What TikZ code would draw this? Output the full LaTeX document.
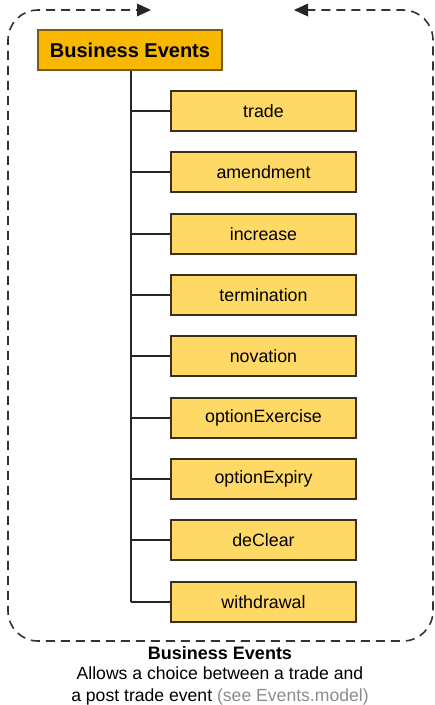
\documentclass[tikz,border=0pt]{standalone}
\usepackage{fontspec}
\setmainfont{Liberation Sans}
\usetikzlibrary{arrows.meta}
\definecolor{hdrfill}{HTML}{F8B800}
\definecolor{hdrdraw}{HTML}{7A5A10}
\definecolor{kidfill}{HTML}{FFD966}
\definecolor{kiddraw}{HTML}{3A3022}
\definecolor{seegrey}{HTML}{8C8C8C}
\tikzset{
  hdrbox/.style={draw=hdrdraw, fill=hdrfill, line width=1.5pt, minimum width=184pt, minimum height=40pt, inner sep=0pt, font=\fontsize{20}{22}\selectfont\bfseries},
  kidbox/.style={draw=kiddraw, fill=kidfill, line width=1.5pt, minimum width=185pt, minimum height=40pt, inner sep=0pt, font=\fontsize{17.8}{20}\selectfont},
  tree/.style={draw=black!85, line width=1.5pt},
  frame/.style={draw=black!80, line width=1.6pt, dash pattern=on 9pt off 6pt},
  tipfill/.style={fill=black!85},
}
\begin{document}
\begin{tikzpicture}[x=1pt,y=1pt]
\useasboundingbox (0,0) rectangle (435,-705);
\node[hdrbox] (hdr) at (130,-50) {Business Events};
\coordinate (trunk) at (131,-70);
\foreach \name/\txt/\yy in {k1/trade/111, k2/amendment/172, k3/increase/234, k4/termination/295, k5/novation/356, k6/optionExercise/418, k7/optionExpiry/479, k8/deClear/540, k9/withdrawal/602}{
  \node[kidbox] (\name) at (263.5,-\yy) {\txt};
  \coordinate (j\name) at (131,-\yy);
  \draw[tree] (j\name) -- (\name.west);
}
\draw[tree] (hdr.south -| trunk) -- (jk9);
% dashed frame
\coordinate (la) at (151,-10);
\coordinate (ra) at (294,-10);
\draw[frame] ([xshift=-6pt]la) -- (38,-10) arc[start angle=90,end angle=180,radius=30] -- (8,-611) arc[start angle=180,end angle=270,radius=30] -- (403,-641) arc[start angle=270,end angle=360,radius=30] -- (433,-40) arc[start angle=0,end angle=90,radius=30] -- ([xshift=6pt]ra);
\fill[tipfill] (la) -- ++(-14,6.5) -- ++(0,-13) -- cycle;
\fill[tipfill] (ra) -- ++(14,6.5) -- ++(0,-13) -- cycle;
\node[font=\fontsize{18}{22}\selectfont\bfseries] (cap) at (220,-653) {Business Events};
\node[font=\fontsize{17.6}{22}\selectfont, align=center, anchor=north] (desc) at (220,-663) {Allows a choice between a trade and\\a post trade event \textcolor{seegrey}{(see Events.model)}};
\end{tikzpicture}
\end{document}
